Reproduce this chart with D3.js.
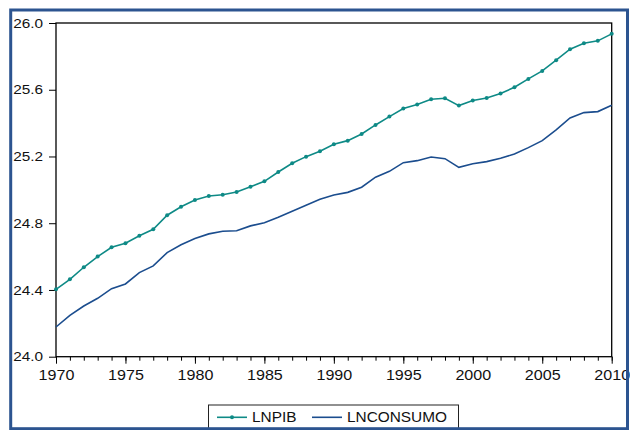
<!DOCTYPE html>
<html>
<head>
<meta charset="utf-8">
<script src="https://cdn.jsdelivr.net/npm/d3@7"></script>
<style>
  body { margin: 0; background: #fff; }
  text { font-family: "Liberation Sans", Arial, sans-serif; }
</style>
</head>
<body>
<script>
 let width = 630, height = 430;

 // data
 const years = d3.range(1970, 2011);
 const lnpib = [24.404, 24.464, 24.536, 24.600, 24.656, 24.680, 24.725, 24.764, 24.848, 24.899,
   24.939, 24.963, 24.971, 24.987, 25.019, 25.051, 25.107, 25.159, 25.199, 25.231,
   25.273, 25.295, 25.335, 25.389, 25.439, 25.487, 25.511, 25.543, 25.549, 25.505,
   25.535, 25.551, 25.577, 25.615, 25.665, 25.713, 25.777, 25.843, 25.879, 25.893, 25.935];
 const lnconsumo = [24.178, 24.248, 24.304, 24.350, 24.408, 24.436, 24.504, 24.544, 24.624, 24.671,
   24.708, 24.736, 24.752, 24.755, 24.784, 24.803, 24.836, 24.872, 24.908, 24.944,
   24.969, 24.985, 25.016, 25.076, 25.111, 25.163, 25.175, 25.197, 25.187, 25.135,
   25.156, 25.169, 25.189, 25.215, 25.253, 25.295, 25.359, 25.431, 25.463, 25.469, 25.507];
 const yTicks = [24.0, 24.4, 24.8, 25.2, 25.6, 26.0];
 const xTicks = [1970, 1975, 1980, 1985, 1990, 1995, 2000, 2005, 2010];
 const seriesNames = ["LNPIB", "LNCONSUMO"];

 const colPib = "#0e8a86", colCons = "#1b4d8e", colFrame = "#2c5490";

 const x = d3.scaleLinear().domain([1970, 2010]).range([56, 611.7]);
 const y = d3.scaleLinear().domain([24, 26]).range([356.7, 23]);

 const svg = d3.select("body").append("svg")
   .attr("width", width)
   .attr("height", height);

 // axes
 const sxY = 1.18, sxX = 1.15;
 svg.append("g")
   .attr("transform", `translate(${x.range()[0]},0)`)
   .call(d3.axisLeft(y).tickValues(yTicks).tickFormat(d3.format(".1f")).tickSize(7).tickPadding(4).tickSizeOuter(0))
   .call(g => g.select(".domain").remove())
   .call(g => g.selectAll("line").attr("stroke", "#000"))
   .call(g => g.selectAll("text")
     .attr("font-size", 13).attr("fill", "#111")
     .attr("font-family", "Liberation Sans, Arial, sans-serif")
     .attr("transform", `scale(${sxY},1)`));

 svg.append("g")
   .attr("transform", `translate(0,${y.range()[0]})`)
   .call(d3.axisBottom(x).tickValues(years).tickFormat("").tickSize(4).tickSizeOuter(0))
   .call(g => g.select(".domain").remove())
   .call(g => g.selectAll("line").attr("stroke", "#000"));

 svg.append("g")
   .attr("transform", `translate(0,${y.range()[0]})`)
   .call(d3.axisBottom(x).tickValues(xTicks).tickFormat(d3.format("d")).tickSize(7).tickPadding(6.4).tickSizeOuter(0))
   .call(g => g.select(".domain").remove())
   .call(g => g.selectAll("line").attr("stroke", "#000"))
   .call(g => g.selectAll("text")
     .attr("font-size", 14).attr("fill", "#111")
     .attr("font-family", "Liberation Sans, Arial, sans-serif")
     .attr("transform", `scale(${sxX},1)`));

 // plot box
 svg.append("rect")
   .attr("x", x.range()[0]).attr("y", y.range()[1])
   .attr("width", x.range()[1] - x.range()[0])
   .attr("height", y.range()[0] - y.range()[1])
   .attr("fill", "none")
   .attr("stroke", "#000")
   .attr("stroke-width", 1.3);

 const line = d3.line()
   .x((d, i) => x(years[i]))
   .y(d => y(d));

 svg.append("path")
   .datum(lnconsumo)
   .attr("fill", "none")
   .attr("stroke", colCons)
   .attr("stroke-width", 1.6)
   .attr("d", line);

 svg.append("path")
   .datum(lnpib)
   .attr("fill", "none")
   .attr("stroke", colPib)
   .attr("stroke-width", 1.6)
   .attr("d", line);

 svg.append("g")
   .attr("fill", colPib)
   .selectAll("circle")
   .data(lnpib)
   .join("circle")
     .attr("cx", (d, i) => x(years[i]))
     .attr("cy", d => y(d))
     .attr("r", 2);

 // legend
 const lg = svg.append("g");
 lg.append("rect")
   .attr("x", 208.5).attr("y", 405)
   .attr("width", 250).attr("height", 30)
   .attr("fill", "#fff")
   .attr("stroke", "#222")
   .attr("stroke-width", 1);

 const items = [
   {name: seriesNames[0], color: colPib, x0: 217, marker: true},
   {name: seriesNames[1], color: colCons, x0: 312, marker: false}
 ];
 const item = lg.selectAll("g.item")
   .data(items)
   .join("g")
     .attr("transform", d => `translate(${d.x0},417.3)`);

 item.append("line")
   .attr("x1", 0).attr("x2", 30)
   .attr("stroke", d => d.color)
   .attr("stroke-width", 1.6);

 item.filter(d => d.marker).append("circle")
   .attr("cx", 15).attr("r", 2)
   .attr("fill", d => d.color);

 const sxL = 1.1;
 item.append("text")
   .attr("x", 35 / sxL)
   .attr("y", 5)
   .attr("font-size", 14)
   .attr("fill", "#111")
   .attr("transform", `scale(${sxL},1)`)
   .text(d => d.name);

 // outer frame
 svg.append("rect")
   .attr("x", 10.7).attr("y", 10)
   .attr("width", 627.5 - 10.7).attr("height", 428.7 - 10)
   .attr("fill", "none")
   .attr("stroke", colFrame)
   .attr("stroke-width", 3);
</script>
</body>
</html>
